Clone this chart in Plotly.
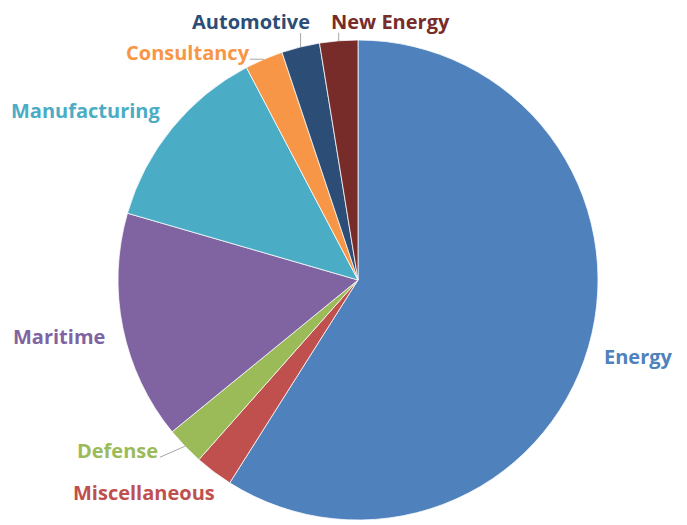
import math
import plotly.graph_objects as go

categories = ["Energy", "Miscellaneous", "Defense", "Maritime", "Manufacturing",
              "Consultancy", "Automotive", "New Energy"]
values = [23, 1, 1, 6, 5, 1, 1, 1]
colors = ["#4F81BD", "#C0504D", "#9BBB59", "#8064A2", "#4BACC6",
          "#F79646", "#2C4D75", "#772C2A"]

# ---- layout / style constants (pixels) ----
W, H = 687, 525
CX, CY, R = 350, 272, 240          # pie centre and radius in pixels
FONT = "Open Sans"
FONT_SIZE = 20
LEADER_COLOR = "#A6A6A6"
# text-centre offset from the slice's outer mid-point (dx right, dy down)
label_offsets = {
    "Energy": (50, 10),
    "Miscellaneous": (-70, 21),
    "Defense": (-67, 4),
    "Maritime": (-64, 8),
    "Manufacturing": (-87, -18),
    "Consultancy": (-76, -7),
    "Automotive": (-50, -25),
    "New Energy": (52, -19),
}
# leader-line end offsets from the slice's outer mid-point (only where drawn)
leader_offsets = {
    "Defense": (-25, 11),
    "Consultancy": (-14, 0),
    "Automotive": (0, -14),
    "New Energy": (0, -8),
}

fig = go.Figure(go.Pie(
    labels=categories,
    values=values,
    sort=False,
    direction="clockwise",
    rotation=0,
    marker=dict(colors=colors, line=dict(color="white", width=0.75)),
    textinfo="none",
    domain=dict(x=[(CX - R) / W, (CX + R) / W],
                y=[1 - (CY + R) / H, 1 - (CY - R) / H]),
    showlegend=False,
    hoverinfo="label+value+percent",
))

total = sum(values)
cum = 0
annotations = []
shapes = []
for cat, val, col in zip(categories, values, colors):
    mid = (cum + val / 2) / total * 2 * math.pi
    cum += val
    ex = CX + R * math.sin(mid)
    ey = CY - R * math.cos(mid)
    dx, dy = label_offsets[cat]
    annotations.append(dict(
        x=ex / W, y=1 - ey / H, xref="paper", yref="paper",
        xshift=dx, yshift=-dy, xanchor="center", yanchor="middle",
        text=cat, showarrow=False, borderpad=0,
        font=dict(family=FONT, size=FONT_SIZE, color=col, weight="bold"),
    ))
    if cat in leader_offsets:
        lx, ly = leader_offsets[cat]
        shapes.append(dict(
            type="line", xref="paper", yref="paper",
            x0=ex / W, y0=1 - ey / H,
            x1=(ex + lx) / W, y1=1 - (ey + ly) / H,
            line=dict(color=LEADER_COLOR, width=1),
        ))

fig.update_layout(
    width=W, height=H,
    margin=dict(l=0, r=0, t=0, b=0),
    paper_bgcolor="white",
    plot_bgcolor="white",
    annotations=annotations,
    shapes=shapes,
)

fig.write_html("out.html")
